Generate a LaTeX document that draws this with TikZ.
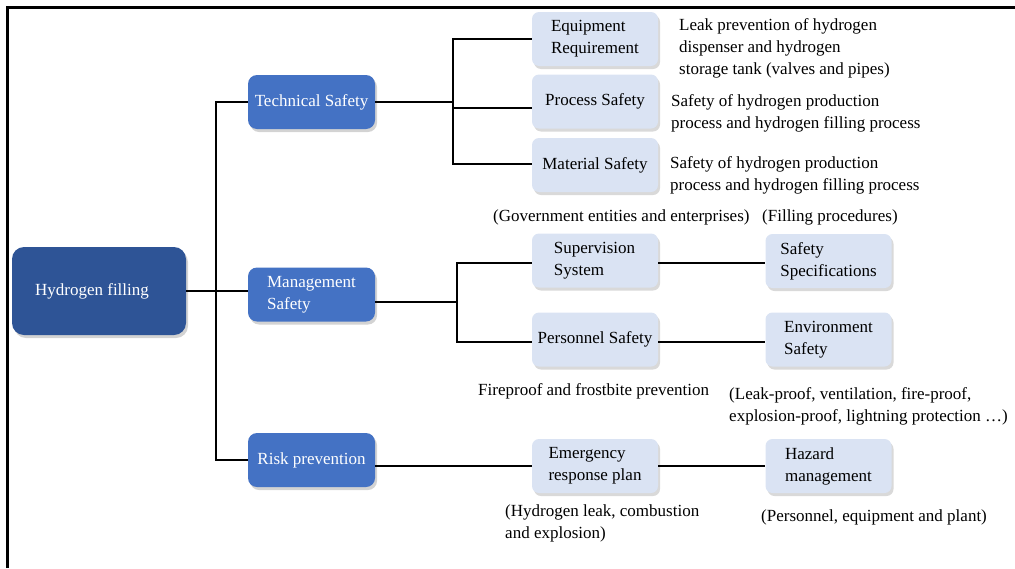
\documentclass[tikz,border=0pt]{standalone}
\usepackage{fontspec}
\setmainfont{Liberation Serif}
\usetikzlibrary{shadows}
\definecolor{darkbox}{RGB}{46,84,150}
\definecolor{midbox}{RGB}{68,114,196}
\definecolor{lightbox}{RGB}{218,227,243}
\begin{document}
\begin{tikzpicture}[x=1pt,y=-1pt,
  every node/.style={font=\fontsize{17}{22}\selectfont, inner sep=0pt},
  rootbox/.style={fill=darkbox, rounded corners=12pt, text=white, minimum width=174pt, minimum height=88pt,
    drop shadow={opacity=0.35, shadow xshift=2pt, shadow yshift=-3pt}},
  catbox/.style={fill=midbox, rounded corners=9pt, text=white, minimum width=127pt, minimum height=54pt, align=left,
    drop shadow={opacity=0.35, shadow xshift=2pt, shadow yshift=-3pt}},
  subbox/.style={fill=lightbox, rounded corners=7pt, text=black, minimum width=126pt, minimum height=54pt, align=left,
    drop shadow={opacity=0.3, shadow xshift=2pt, shadow yshift=-3pt}},
  note/.style={anchor=north west, align=left, text=black},
  conn/.style={line width=1.4pt, black}]
\useasboundingbox (0,0) rectangle (1015,568);
\draw[line width=3pt] (7,568) -- (7,7) -- (1015,7);

% root and categories
\node[rootbox] (hf) at (99,291) {\hspace*{-14pt}Hydrogen filling};
\node[catbox] (ts) at (311.5,102) {Technical Safety};
\node[catbox] (ms) at (311.5,294.5) {Management\\Safety\hspace*{40pt}};
\node[catbox] (rp) at (311.5,460) {Risk prevention};

% technical safety children
\node[subbox] (eq) at (595,39) {Equipment\\Requirement};
\node[subbox] (ps) at (595,101.5) {Process Safety};
\node[subbox] (mat) at (595,165) {Material Safety};

% management children
\node[subbox] (sup) at (595,260.5) {Supervision\\System\hspace*{32pt}};
\node[subbox] (spec) at (828.5,261) {Safety\\Specifications};
\node[subbox] (pers) at (595,339.5) {Personnel Safety};
\node[subbox] (env) at (828.5,339.5) {Environment\\Safety};

% risk children
\node[subbox] (emer) at (595,466) {Emergency\\response plan};
\node[subbox] (haz) at (828.5,466) {Hazard\\management};

% notes
\node[note] (n1) at (679,18) {Leak prevention of hydrogen\\dispenser and hydrogen\\storage tank (valves and pipes)};
\node[note] (n2) at (671,94) {Safety of hydrogen production\\process and hydrogen filling process};
\node[note] (n3) at (670,156) {Safety of hydrogen production\\process and hydrogen filling process};
\node[note] (n4) at (493,210) {(Government entities and enterprises)};
\node[note] (n5) at (762,210) {(Filling procedures)};
\node[note] (n6) at (478,383) {Fireproof and frostbite prevention};
\node[note] (n7) at (729,387) {(Leak-proof, ventilation, fire-proof,\\explosion-proof, lightning protection \ldots)};
\node[note] (n8) at (505,504) {(Hydrogen leak, combustion\\and explosion)};
\node[note] (n9) at (761,509) {(Personnel, equipment and plant)};

% junctions
\coordinate (j1) at (216,291);
\coordinate (j2) at (453,102);
\coordinate (j3) at (457,302);

% connectors: root
\draw[conn] (hf.east) -- (j1);
\draw[conn] (j1) |- (ts.west);
\draw[conn] (j1) -- (ms.west |- j1);
\draw[conn] (j1) |- (rp.west);

% technical
\draw[conn] (ts.east) -- (j2);
\draw[conn] (j2) |- (eq.west);
\draw[conn] (j2) -- (453,108) -- (eq.west |- 0,108);
\draw[conn] (j2) |- (mat.west |- 0,164);

% management
\draw[conn] (ms.east |- j3) -- (j3);
\draw[conn] (j3) |- (sup.west |- 0,263);
\draw[conn] (j3) |- (pers.west |- 0,342);
\draw[conn] (sup.east |- 0,263) -- (spec.west |- 0,263);
\draw[conn] (pers.east |- 0,342) -- (env.west |- 0,342);

% risk
\draw[conn] (rp.east |- 0,466) -- (emer.west);
\draw[conn] (emer.east) -- (haz.west);
\end{tikzpicture}
\end{document}
